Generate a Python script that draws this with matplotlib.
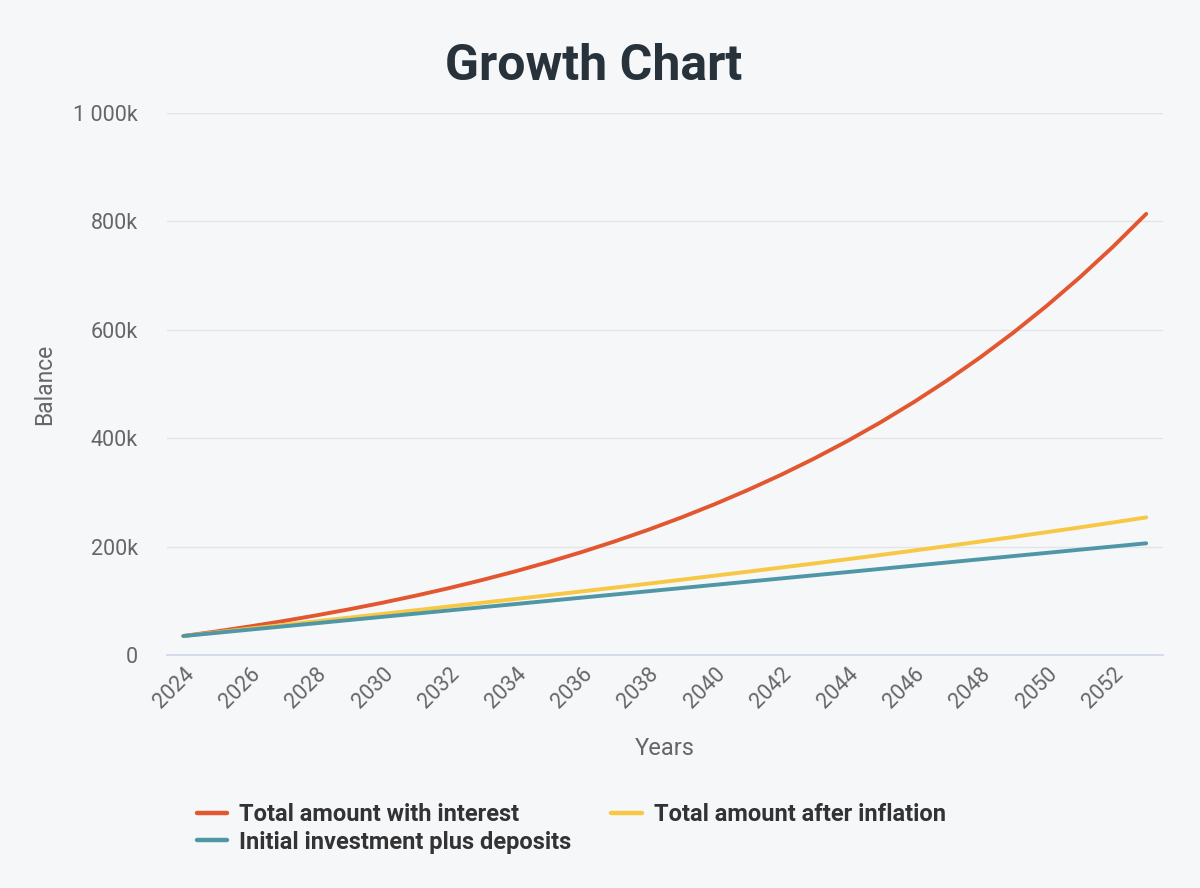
import matplotlib
matplotlib.use("Agg")
import matplotlib.pyplot as plt
from matplotlib.ticker import FuncFormatter, MultipleLocator

plt.rcParams['font.family'] = ['Roboto', 'DejaVu Sans']

years = list(range(2024, 2054))

# values, in thousands
with_interest = [35.0, 43.5, 52.7, 62.5, 73.1, 84.4, 96.5, 109.5, 123.4, 138.4,
                 154.4, 171.6, 190.0, 209.8, 231.0, 253.8, 278.2, 304.4, 332.4, 362.5,
                 394.8, 429.4, 466.6, 506.4, 549.1, 594.9, 644.1, 696.8, 753.3, 813.9]
after_inflation = [35.0, 41.8, 48.6, 55.4, 62.2, 69.0, 75.8, 82.6, 89.5, 96.4,
                   103.3, 110.3, 117.3, 124.4, 131.6, 138.9, 146.3, 153.7, 161.3, 168.9,
                   176.7, 184.6, 192.7, 200.9, 209.3, 217.8, 226.6, 235.4, 244.5, 253.8]
deposits = [35.0, 40.9, 46.8, 52.7, 58.6, 64.5, 70.4, 76.3, 82.2, 88.1,
            94.0, 99.9, 105.8, 111.7, 117.6, 123.5, 129.4, 135.3, 141.2, 147.1,
            153.0, 158.9, 164.8, 170.7, 176.6, 182.5, 188.4, 194.3, 200.2, 206.1]

series = [
    ("Total amount with interest", with_interest, "#e2572f"),
    ("Total amount after inflation", after_inflation, "#f7c843"),
    ("Initial investment plus deposits", deposits, "#4f97a6"),
]

bg = "#f6f7f9"
fig = plt.figure(figsize=(12, 8.88), dpi=100, facecolor=bg)
ax = fig.add_axes([0.139, 0.2624, 0.830, 0.6103], facecolor=bg)

x = list(range(len(years)))
lines = {}
for name, vals, col in series:
    lines[name], = ax.plot(x, [v * 1000 for v in vals], color=col, lw=2.8, label=name,
                           solid_capstyle='round')

ax.set_xlim(-0.5, len(years) - 0.5)
ax.set_ylim(0, 1000000)
ax.yaxis.set_major_locator(MultipleLocator(200000))
ax.yaxis.set_major_formatter(FuncFormatter(lambda v, p: f"{v/1000:,.0f}k".replace(",", " ") if v else "0"))
ax.set_xticks(x[::2])
ax.set_xticklabels([str(y) for y in years[::2]], rotation=45, ha='right',
                   rotation_mode='anchor')

ax.grid(axis='y', color='#e3e4e6', lw=1)
ax.set_axisbelow(True)
for s in ['top', 'right', 'left']:
    ax.spines[s].set_visible(False)
ax.spines['bottom'].set_color('#ccd6eb')
ax.spines['bottom'].set_linewidth(1.2)
ax.tick_params(axis='both', length=0, labelsize=15.5, colors='#666666')
ax.tick_params(axis='y', pad=21)
ax.tick_params(axis='x', pad=6)

ax.set_ylabel("Balance", fontsize=16.5, color='#666666', labelpad=12)
ax.set_xlabel("Years", fontsize=17, color='#666666', labelpad=18)

fig.text(0.495, 0.925, "Growth Chart", ha='center', va='center', fontsize=36,
         fontweight='bold', color='#27323a')

order = ["Total amount with interest", "Initial investment plus deposits",
         "Total amount after inflation"]
leg = fig.legend([lines[n] for n in order], order, loc='upper left',
                 bbox_to_anchor=(0.154, 0.109), ncol=2,
                 frameon=False, fontsize=17, handlelength=1.3, handletextpad=0.5,
                 columnspacing=1.7, labelspacing=0.2, borderpad=0)
for t in leg.get_texts():
    t.set_fontweight('bold')
    t.set_color('#333333')
for h in leg.get_lines():
    h.set_linewidth(3.2)

fig.savefig("out.png", dpi=100, facecolor=bg)
